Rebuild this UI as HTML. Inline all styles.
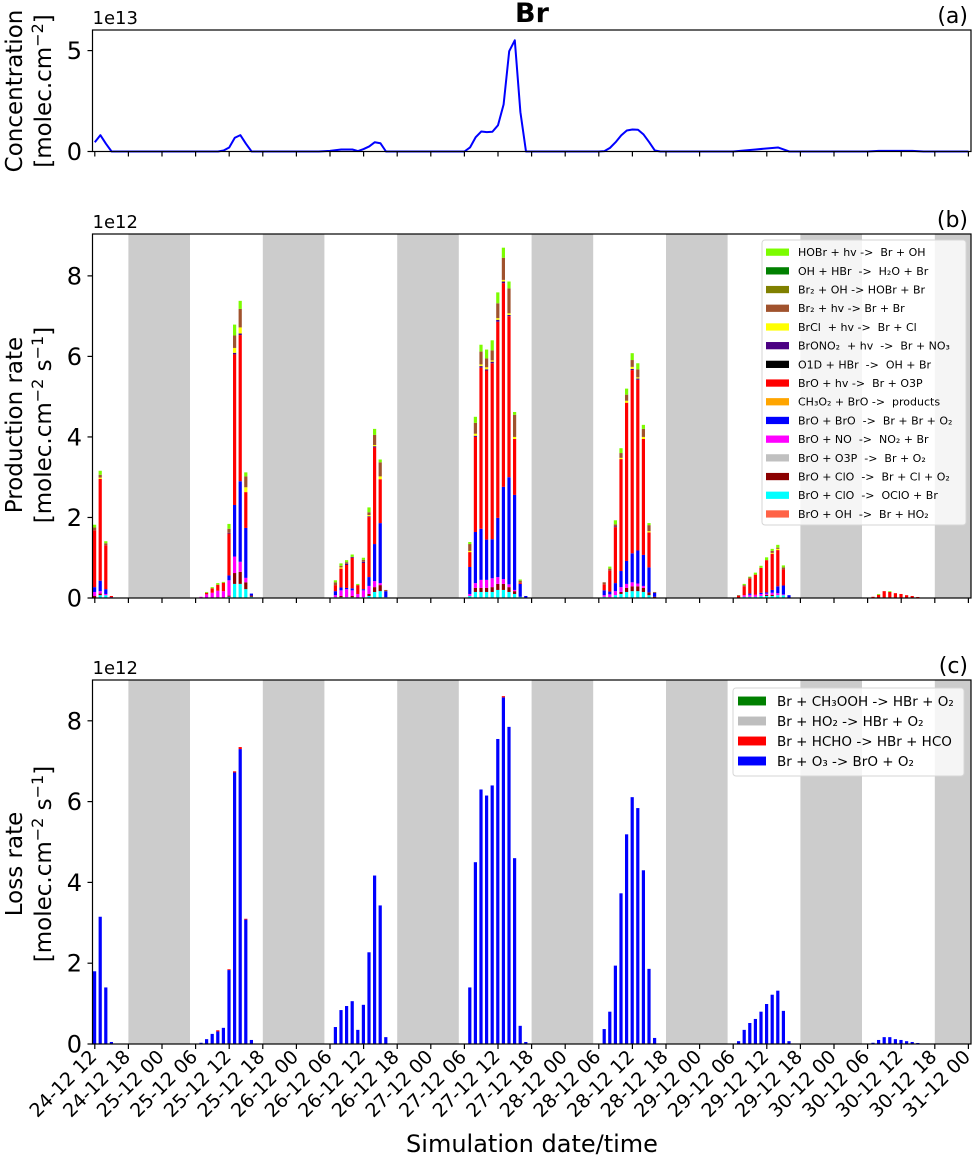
<!DOCTYPE html>
<html><head><meta charset="utf-8"><style>
html,body{margin:0;padding:0;background:#fff;}
svg{display:block;font-family:"DejaVu Sans","Liberation Sans",sans-serif;}
svg text{white-space:pre;}
</style></head><body>
<svg id="fig" width="973" height="1158" viewBox="0 0 973 1158" xmlns="http://www.w3.org/2000/svg" xml:space="preserve">
<text x="532" y="22" text-anchor="middle" font-size="27" font-weight="bold">Br</text>
<g id="pa"></g>
<g id="pb"></g>
<g id="pc"></g>
<g id="xl"></g>
<text x="532" y="1152" text-anchor="middle" font-size="24">Simulation date/time</text>
</svg>
<script>
// ---------- data ----------
const tickLabels = ["24-12 12","24-12 18","25-12 00","25-12 06","25-12 12","25-12 18","26-12 00","26-12 06","26-12 12","26-12 18","27-12 00","27-12 06","27-12 12","27-12 18","28-12 00","28-12 06","28-12 12","28-12 18","29-12 00","29-12 06","29-12 12","29-12 18","30-12 00","30-12 06","30-12 12","30-12 18","31-12 00"];
const nightStarts = [6,30,54,78,102,126,150];
const concHours = [0,1,2,3,22,23,24,25,26,27,28,40,42,44,46,47,48,49,50,51,52,66,67,68,69,70,71,72,73,74,75,76,77,90,91,92,93,94,95,96,97,98,99,100,101,114,118,122,123,124,138,140,146,148,156];
const concValues = [0.46,0.81,0.38,0,0,0.05,0.2,0.68,0.81,0.38,0,0,0.03,0.1,0.1,0.02,0.12,0.25,0.46,0.41,0,0,0.2,0.7,0.99,0.96,0.98,1.3,2.33,4.97,5.51,1.95,0,0,0.02,0.18,0.46,0.8,1.04,1.09,1.08,0.84,0.46,0.05,0,0,0.1,0.2,0.1,0,0,0.03,0.03,0,0];
const barHours = [0,1,2,3,19,20,21,22,23,24,25,26,27,28,43,44,45,46,47,48,49,50,51,52,67,68,69,70,71,72,73,74,75,76,77,91,92,93,94,95,96,97,98,99,100,115,116,117,118,119,120,121,122,123,124,139,140,141,142,143,144,145,146,147];
const prodBrOOH = new Array(64).fill(0);
const prodOClO = [0,.07,.07,0,0,0,0,0,0,.03,.35,.35,.22,.03,.02,.02,.02,.02,0,.02,.05,.15,.17,.02,.05,.15,.15,.15,.15,.2,.2,.15,.1,.03,0,.03,.02,.07,.1,.15,.17,.17,.15,.07,0,0,.03,.03,.03,.05,.05,.05,.07,.07,0,0,0,0,0,0,0,0,0,0];
const prodClOBrCl = [.05,.04,0,0,0,0,0,.02,0,.03,.27,.3,.17,.03,0,.03,0,.03,0,0,.05,.12,.15,0,0,.1,.1,.1,.12,.15,.15,.12,.07,0,0,0,0,0,.05,.1,.12,.12,.1,.07,.03,0,0,0,0,0,.03,.03,0,0,0,0,0,0,0,0,0,0,0,0];
const prodNO = [.1,.06,.03,0,.03,.09,.13,.16,.17,.38,.41,.25,.11,0,.05,.14,.2,.14,.1,.17,.2,.15,.05,0,.05,.12,.2,.2,.22,.17,.12,.07,.03,0,0,.04,.07,.1,.12,.1,.1,.07,.05,0,0,0,.04,.05,.05,.05,.03,.05,.05,.02,0,0,0,0,0,0,0,0,0,0];
const prodBrOBrO = [.12,.26,.12,.02,0,0,0,0,0,.12,1.28,2.0,1.24,.05,.1,.07,.03,.05,0,.03,.22,.92,1.49,.15,.67,1.27,1.27,1.0,.97,1.47,2.29,2.66,2.36,.32,.05,.12,.07,.2,.4,.57,.72,.82,.77,.62,.1,0,0,.03,0,.03,.03,.07,.17,.22,.07,0,0,0,0,0,0,0,0,0];
const prodBrOhv = [1.41,2.53,1.09,.03,0,.04,.11,.15,.21,1.04,3.74,3.63,.89,0,.15,.47,.57,.76,.22,.65,1.49,2.4,1.09,0,.37,2.36,4.0,4.2,4.37,4.87,5.06,4.0,1.39,.03,0,.15,.52,1.39,2.78,3.93,4.55,4.24,2.88,.87,0,.05,.22,.37,.5,.62,.8,.9,.9,.4,0,.03,.08,.17,.15,.12,.1,.07,.05,.025];
const prodBrONO2 = [0,0,0,0,0,0,0,0,0,.02,.04,.04,0,0,0,0,.03,.02,0,.03,.02,.03,0,0,0,.03,.04,.03,.04,.05,.04,.03,0,0,0,0,0,.02,0,0,.03,.03,0,0,0,0,0,0,0,0,0,0,0,0,0,0,0,0,0,0,0,0,0,0];
const prodBrCl = [0,.03,0,0,0,0,0,0,0,0,.12,.15,.12,0,0,.03,0,0,0,0,.03,.03,.07,0,.03,.05,.04,.05,.03,.04,.04,.04,.05,0,0,0,0,0,.03,.05,.05,.03,.05,.03,0,0,0,0,0,0,0,.02,.03,0,0,0,0,0,0,0,0,0,0,0];
const prodBr2hv = [.07,.07,.05,0,0,0,0,0,0,.1,.31,.46,.27,0,.07,.04,.04,0,0,.05,.07,.25,.35,.03,.17,.27,.32,.22,.25,.37,.55,.62,.55,.05,0,.05,.05,.05,.12,.15,.17,.2,.2,.15,.02,.02,.03,.03,0,0,0,.05,.03,.05,0,0,0,0,0,0,0,0,0,0];
const prodHOBr = [.07,.1,.05,0,0,.02,.03,.04,.02,.12,.27,.2,.1,0,.05,.06,.05,.06,.03,.05,.12,.15,.07,0,.05,.15,.17,.22,.25,.27,.25,.17,.07,.03,0,0,.05,.1,.12,.15,.17,.15,.1,.05,0,0,.03,.02,.05,.05,.07,.05,.07,.05,0,0,.02,0,.02,0,0,0,0,0];
const lossO3 = [1.8,3.15,1.4,.05,.03,.12,.25,.31,.4,1.83,6.72,7.3,3.08,.1,.42,.84,.94,1.06,.35,.97,2.27,4.17,3.43,.17,1.4,4.5,6.3,6.15,6.4,7.55,8.58,7.85,4.6,.45,.05,.37,.8,1.94,3.73,5.19,6.11,5.84,4.3,1.86,.15,.07,.35,.52,.62,.8,.99,1.22,1.32,.82,.07,.03,.1,.17,.17,.12,.1,.07,.05,.025];
const lossHCHO = [0,0,0,0,0,0,0,.03,0,.02,.03,.05,.02,0,0,0,0,0,0,0,0,0,0,0,0,0,0,0,0,0,.03,0,0,0,0,0,0,0,0,0,0,0,0,0,0,0,0,0,0,0,0,0,0,0,0,0,0,0,0,0,0,0,0,0];
const prodLegend = ["HOBr + hv ->  Br + OH","OH + HBr  ->  H₂O + Br","Br₂ + OH -> HOBr + Br","Br₂ + hv -> Br + Br","BrCl  + hv ->  Br + Cl","BrONO₂  + hv  ->  Br + NO₃","O1D + HBr  ->  OH + Br","BrO + hv ->  Br + O3P","CH₃O₂ + BrO ->  products","BrO + BrO  ->  Br + Br + O₂","BrO + NO  ->  NO₂ + Br","BrO + O3P  ->  Br + O₂","BrO + ClO  ->  Br + Cl + O₂","BrO + ClO  ->  OClO + Br","BrO + OH  ->  Br + HO₂"];
const prodLegendColors = ["#7cfc00","#008000","#808000","#a0522d","#ffff00","#4b0082","#000000","#ff0000","#ffa500","#0000ff","#ff00ff","#c0c0c0","#8b0000","#00ffff","#ff6347"];
const lossLegend = ["Br + CH₃OOH -> HBr + O₂","Br + HO₂ -> HBr + O₂","Br + HCHO -> HBr + HCO","Br + O₃ -> BrO + O₂"];
const lossLegendColors = ["#008000","#bebebe","#ff0000","#0000ff"];

// ---------- helpers ----------
const NS = "http://www.w3.org/2000/svg";
function mk(tag, attrs, parent){const e=document.createElementNS(NS,tag);for(const k in attrs)e.setAttribute(k,attrs[k]);parent.appendChild(e);return e;}
const X0 = 94.8, PXH = 5.6, LEFT = 92.5, RIGHT = 971;
function xs(h){return X0 + h*PXH;}
function makeY(bottom, top, vmax){return v => bottom - v*(bottom-top)/vmax;}

function axesFrame(g, top, bottom, yfun, ticks, exp, label, shading){
  if(shading){
    nightStarts.forEach(s=>{
      const x1=Math.max(LEFT,xs(s)), x2=Math.min(RIGHT,xs(s+11));
      const r=mk("rect",{x:x1,y:top,width:x2-x1,height:bottom-top,fill:"#cccccc"},g);
      
      
    });
  }
  return function finish(){
    const f=mk("rect",{x:LEFT,y:top,width:RIGHT-LEFT,height:bottom-top,fill:"none",stroke:"#000","stroke-width":1.2},g);
    
    
    ticks.forEach(t=>{
      const y=yfun(t);
      mk("line",{x1:LEFT-5,x2:LEFT,y1:y,y2:y,stroke:"#000","stroke-width":1.2},g);
      const tl=mk("text",{x:82,y:y+8.5,"text-anchor":"end","font-size":24},g);
      tl.textContent=t;
      
      
    });
    for(let i=0;i<tickLabels.length;i++){
      const x=xs(i*6);
      mk("line",{x1:x,x2:x,y1:bottom,y2:bottom+5,stroke:"#000","stroke-width":1.2},g);
    }
    const e=mk("text",{x:LEFT,y:top-6,"font-size":18},g);
    e.textContent=exp;
    
    
    const p=mk("text",{x:968,y:top-7,"text-anchor":"end","font-size":22},g);
    p.textContent=label;
    
    
  };
}
function ylabel(g, cy, l1, l2){
  const t1=mk("text",{x:22,y:cy,"text-anchor":"middle","font-size":23,transform:`rotate(-90 22 ${cy})`},g);
  t1.textContent=l1;
  
  
  const t2=mk("text",{x:51,y:cy,"text-anchor":"middle","font-size":23,transform:`rotate(-90 51 ${cy})`},g);
  t2.innerHTML=l2;
  
  
}
function legend(g, x, y, w, h, names, colors, fs, step, px, pw, tx){
  const r=mk("rect",{x:x,y:y,width:w,height:h,rx:3,fill:"#fff","fill-opacity":0.8,stroke:"#d6d6d6","stroke-width":1},g);
  
  
  names.forEach((n,i)=>{
    const cy=y+step*0.65+i*step;
    const sw=mk("rect",{x:px,y:cy-fs*0.33,width:pw,height:fs*0.66,fill:colors[i]},g);
    
    
    const t=mk("text",{x:tx,y:cy+fs*0.36,"font-size":fs},g);
    t.textContent=n;
    
    
  });
}

// ---------- panel a ----------
(function(){
  const g=document.getElementById("pa");
  const top=30, bottom=151.5, y=makeY(bottom,top,6.02);
  const fin=axesFrame(g,top,bottom,y,[0,5],"1e13","(a)",false);
  let d="";
  concHours.forEach((h,i)=>{d+=(i?"L":"M")+xs(h).toFixed(2)+" "+y(concValues[i]).toFixed(2);});
  const p=mk("path",{d:d,fill:"none",stroke:"#0000ff","stroke-width":2,"stroke-linejoin":"round"},g);
  
  
  fin();
  ylabel(g,91,"Concentration","[molec.cm<tspan dy='-8' font-size='16'>−2</tspan><tspan dy='8'>]</tspan>");
})();

// ---------- panel b ----------
(function(){
  const g=document.getElementById("pb");
  const top=234, bottom=598, y=makeY(bottom,top,9.04);
  const fin=axesFrame(g,top,bottom,y,[0,2,4,6,8],"1e12","(b)",true);
  const series=[[prodBrOOH,"#ff6347"],[prodOClO,"#00ffff"],[prodClOBrCl,"#8b0000"],[prodNO,"#ff00ff"],[prodBrOBrO,"#0000ff"],[prodBrOhv,"#ff0000"],[prodBrONO2,"#4b0082"],[prodBrCl,"#ffff00"],[prodBr2hv,"#a0522d"],[prodHOBr,"#7cfc00"]];
  barHours.forEach((h,i)=>{
    let acc=0;
    series.forEach(([arr,col])=>{
      const v=arr[i]; if(!v) return;
      const r=mk("rect",{x:xs(h)-1.8,y:y(acc+v),width:3.2,height:y(acc)-y(acc+v),fill:col},g);
      
      
      acc+=v;
    });
  });
  fin();
  legend(g,762,240,204,285,prodLegend,prodLegendColors,11,18.7,766,23,798);
  ylabel(g,425,"Production rate","[molec.cm<tspan dy='-8' font-size='16'>−2</tspan><tspan dy='8'> s</tspan><tspan dy='-8' font-size='16'>−1</tspan><tspan dy='8'>]</tspan>");
})();

// ---------- panel c ----------
(function(){
  const g=document.getElementById("pc");
  const top=680, bottom=1044, y=makeY(bottom,top,9.01);
  const fin=axesFrame(g,top,bottom,y,[0,2,4,6,8],"1e12","(c)",true);
  barHours.forEach((h,i)=>{
    const a=lossO3[i], b=lossHCHO[i];
    const r=mk("rect",{x:xs(h)-1.8,y:y(a),width:3.2,height:y(0)-y(a),fill:"#0000ff"},g);
    
    
    if(b){
      const r2=mk("rect",{x:xs(h)-1.8,y:y(a+b),width:3.2,height:y(a)-y(a+b),fill:"#ff0000"},g);
      
      
    }
  });
  fin();
  legend(g,733,688,231,88,lossLegend,lossLegendColors,13.5,20,738,28,777);
  ylabel(g,864,"Loss rate","[molec.cm<tspan dy='-8' font-size='16'>−2</tspan><tspan dy='8'> s</tspan><tspan dy='-8' font-size='16'>−1</tspan><tspan dy='8'>]</tspan>");
})();

// ---------- x tick labels ----------
(function(){
  const g=document.getElementById("xl");
  tickLabels.forEach((t,i)=>{
    const x=xs(i*6)+3, yy=1058;
    const e=mk("text",{x:x,y:yy,"text-anchor":"end","font-size":19,transform:`rotate(-45 ${x} ${yy})`},g);
    e.textContent=t;
    
    
  });
})();
</script>
</body></html>
